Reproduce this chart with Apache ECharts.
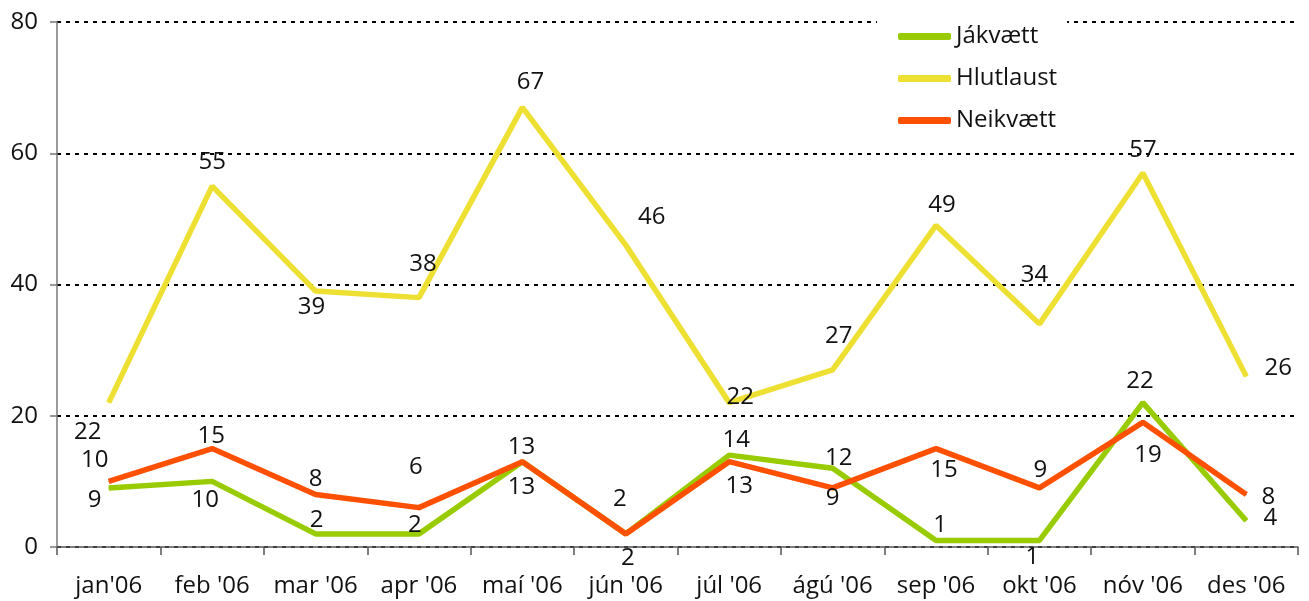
<!DOCTYPE html>
<html style="height: 100%">
<head>
	<meta charset="utf-8">
	<title></title>
	<script type="text/javascript" src="https://cdn.jsdelivr.net/npm/echarts@6/dist/echarts.min.js"></script>
</head>
<body style="height: 100%; margin: 0; background: #fff">
<div id="container" style="width: 1309px; height: 601px"></div>
<script type="text/javascript">
	var months = ["jan'06", "feb '06", "mar '06", "apr '06", "maí '06", "jún '06", "júl '06", "ágú '06", "sep '06", "okt '06", "nóv '06", "des '06"];
	var jakvaett = [9, 10, 2, 2, 13, 2, 14, 12, 1, 1, 22, 4];
	var hlutlaust = [22, 55, 39, 38, 67, 46, 22, 27, 49, 34, 57, 26];
	var neikvaett = [10, 15, 8, 6, 13, 2, 13, 9, 15, 9, 19, 8];
	var yTicks = [0, 20, 40, 60, 80];

	// where each value label sits, relative to its point (px)
	var jakOff = [[-14,12],[-7,19],[1,-14],[-4,-9],[-1,25],[2,24],[7,-15],[6,-10],[4,-15],[-7,17],[-3,-21],[24,-3]];
	var hluOff = [[-21,30],[0,-24],[-4,16],[4,-33],[8,-25],[26,-28],[11,-5],[6,-34],[6,-20],[-5,-49],[0,-23],[32,-8]];
	var neiOff = [[-14,-21],[-1,-12],[0,-15],[-3,-40],[-1,-15],[-6,-35],[10,24],[0,10],[8,22],[1,-18],[5,33],[22,3]];

	var font = 'Open Sans';
	var fsize = 24;

	function points(vals, offs){
		var out = [];
		for(var i=0;i<vals.length;i++){
			out.push({
				value: vals[i],
				label: {offset: offs[i]}
			});
		}
		return out;
	}

	function line(name, color, vals, offs){
		return {
			name: name,
			type: 'line',
			data: points(vals, offs),
			symbol: 'circle',
			symbolSize: 1,
			itemStyle: {color: color},
			lineStyle: {color: color, width: 5.5},
			label: {
				show: true,
				position: 'inside',
				color: '#111',
				fontFamily: font,
				fontSize: fsize
			},
			emphasis: {disabled: true}
		};
	}

	var dom = document.getElementById('container');
	var myChart = echarts.init(dom, null, {renderer: 'canvas'});

	var option = {
		animation: false,
		backgroundColor: '#fff',
		textStyle: {fontFamily: font},
		grid: {left: 57, right: 11, top: 22, bottom: 54, containLabel: false},
		legend: {
			orient: 'vertical',
			left: 877,
			top: 8,
			padding: [16, 10, 14, 21],
			backgroundColor: '#fff',
			icon: 'roundRect',
			itemWidth: 53,
			itemHeight: 7,
			itemGap: 17,
			textStyle: {fontFamily: font, fontSize: fsize, color: '#111', lineHeight: 25},
			data: ['Jákvætt', 'Hlutlaust', 'Neikvætt']
		},
		xAxis: {
			type: 'category',
			data: months,
			boundaryGap: true,
			axisLine: {lineStyle: {color: '#555', width: 1.5}},
			axisTick: {show: true, interval: 0, length: 8, lineStyle: {color: '#555', width: 1.5}},
			axisLabel: {interval: 0, margin: 27, color: '#111', fontFamily: font, fontSize: fsize}
		},
		yAxis: {
			type: 'value',
			min: yTicks[0],
			max: yTicks[yTicks.length-1],
			interval: 20,
			axisLine: {show: true, lineStyle: {color: '#777', width: 1.5}},
			axisTick: {show: true, length: 7, lineStyle: {color: '#777', width: 1.5}},
			axisLabel: {margin: 19, color: '#111', fontFamily: font, fontSize: fsize},
			splitLine: {show: true, lineStyle: {color: '#000', width: 2, type: [4, 5]}}
		},
		series: [
			line('Jákvætt', '#99cc00', jakvaett, jakOff),
			line('Hlutlaust', '#eee033', hlutlaust, hluOff),
			line('Neikvætt', '#ff5000', neikvaett, neiOff)
		]
	};

	myChart.setOption(option);
</script>
</body>
</html>
